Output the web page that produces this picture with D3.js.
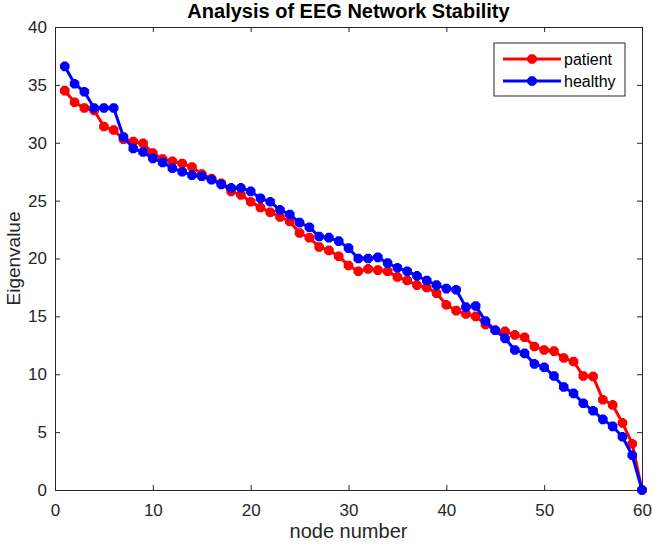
<!DOCTYPE html>
<html>
<head>
<meta charset="utf-8">
<script src="https://cdn.jsdelivr.net/npm/d3@7"></script>
<style>
  body { margin: 0; background: #fff; }
  svg { display: block; font-family: "Liberation Sans", Arial, sans-serif; }
</style>
</head>
<body>
<svg id="chart" width="653" height="548"></svg>
<script>
const nodes = d3.range(1, 61);
const patient = [34.5, 33.5, 33.0, 32.8, 31.4, 31.1, 30.3, 30.1, 29.95, 29.1,
  28.6, 28.4, 28.2, 27.9, 27.3, 26.9, 26.5, 25.8, 25.5, 24.9,
  24.4, 24.0, 23.6, 23.2, 22.2, 21.8, 21.0, 20.7, 20.2, 19.4,
  18.9, 19.1, 19.0, 18.9, 18.4, 18.1, 17.7, 17.5, 17.0, 16.0,
  15.5, 15.2, 15.0, 14.3, 13.8, 13.7, 13.4, 13.2, 12.4, 12.1,
  12.0, 11.4, 11.1, 9.85, 9.8, 7.8, 7.35, 5.8, 4.0, 0];
const healthy = [36.6, 35.1, 34.4, 33.0, 33.0, 33.0, 30.5, 29.5, 29.2, 28.65,
  28.3, 27.8, 27.5, 27.2, 27.1, 26.8, 26.4, 26.1, 26.1, 25.8,
  25.2, 24.9, 24.2, 23.8, 23.1, 22.7, 21.9, 21.8, 21.5, 20.9,
  20.0, 20.0, 20.1, 19.6, 19.2, 18.9, 18.5, 18.1, 17.7, 17.4,
  17.3, 15.8, 15.9, 14.6, 13.8, 13.1, 12.1, 11.8, 10.9, 10.6,
  9.85, 8.9, 8.35, 7.5, 6.85, 6.1, 5.5, 4.6, 3.0, 0];
const xTicks = [0, 10, 20, 30, 40, 50, 60];
const yTicks = [0, 5, 10, 15, 20, 25, 30, 35, 40];
const seriesNames = ["patient", "healthy"];
const seriesColors = ["#ff0000", "#0000ff"];

const svg = d3.select("#chart");
const L = 55, R = 642, T = 27, B = 490;
const x = d3.scaleLinear().domain([0, 60]).range([L, R]);
const y = d3.scaleLinear().domain([0, 40]).range([B, T]);
const axisColor = "#262626";

// axes (box with inward ticks)
const gx = svg.append("g").attr("transform", `translate(0,${B})`)
  .call(d3.axisBottom(x).tickValues(xTicks).tickSizeInner(-5).tickSizeOuter(0).tickPadding(14));
const gxt = svg.append("g").attr("transform", `translate(0,${T})`)
  .call(d3.axisTop(x).tickValues(xTicks).tickSizeInner(-5).tickSizeOuter(0).tickFormat(""));
const gy = svg.append("g").attr("transform", `translate(${L},0)`)
  .call(d3.axisLeft(y).tickValues(yTicks).tickSizeInner(-5).tickSizeOuter(0).tickPadding(8));
const gyr = svg.append("g").attr("transform", `translate(${R},0)`)
  .call(d3.axisRight(y).tickValues(yTicks).tickSizeInner(-5).tickSizeOuter(0).tickFormat(""));
[gx, gxt, gy, gyr].forEach(g => {
  g.select(".domain").attr("stroke", axisColor).attr("stroke-width", 1);
  g.selectAll(".tick line").attr("stroke", axisColor);
  g.selectAll(".tick text").attr("fill", axisColor).style("font-size", "17px")
    .style("font-family", "'Liberation Sans', Arial, sans-serif");
});

// star marker (MATLAB '*')
const starR = 4.8;
function starPath(cx, cy) {
  const r = starR, d = r * 0.7071;
  return `M${cx - r},${cy}L${cx + r},${cy}M${cx},${cy - r}L${cx},${cy + r}` +
    `M${cx - d},${cy - d}L${cx + d},${cy + d}M${cx - d},${cy + d}L${cx + d},${cy - d}`;
}

const data = [patient, healthy];
const line = d3.line().x((d, i) => x(nodes[i])).y(d => y(d));
data.forEach((vals, k) => {
  const g = svg.append("g");
  g.append("path").datum(vals).attr("d", line)
    .attr("fill", "none").attr("stroke", seriesColors[k]).attr("stroke-width", 3);
  g.selectAll("path.m").data(vals).join("path").attr("class", "m")
    .attr("d", (d, i) => starPath(x(nodes[i]), y(d)))
    .attr("stroke", seriesColors[k]).attr("stroke-width", 4).attr("fill", "none");
  g.selectAll("circle.m").data(vals).join("circle").attr("class", "m")
    .attr("cx", (d, i) => x(nodes[i])).attr("cy", d => y(d)).attr("r", 3.8)
    .attr("fill", seriesColors[k]);
});

// title and labels
svg.append("text").attr("x", (L + R) / 2).attr("y", 18).attr("text-anchor", "middle")
  .style("font-weight", "bold").style("font-size", "20px").attr("fill", "#000")
  .text("Analysis of EEG Network Stability");
svg.append("text").attr("x", (L + R) / 2).attr("y", 538).attr("text-anchor", "middle")
  .style("font-size", "20px").attr("fill", axisColor).text("node number");
svg.append("text").attr("transform", `translate(20,${(T + B) / 2}) rotate(-90)`)
  .attr("text-anchor", "middle")
  .style("font-size", "19px").attr("fill", axisColor).text("Eigenvalue");

// legend
const lg = svg.append("g");
lg.append("rect").attr("x", 494).attr("y", 43).attr("width", 131).attr("height", 53)
  .attr("fill", "#fff").attr("stroke", axisColor).attr("stroke-width", 1);
seriesNames.forEach((name, k) => {
  const ly = 59 + k * 22;
  lg.append("line").attr("x1", 503).attr("x2", 561).attr("y1", ly).attr("y2", ly)
    .attr("stroke", seriesColors[k]).attr("stroke-width", 3);
  lg.append("path").attr("d", starPath(532, ly)).attr("stroke", seriesColors[k])
    .attr("stroke-width", 4).attr("fill", "none");
  lg.append("circle").attr("cx", 532).attr("cy", ly).attr("r", 3.8).attr("fill", seriesColors[k]);
  lg.append("text").attr("x", 564).attr("y", ly).attr("dy", "0.35em")
    .style("font-size", "16px").attr("fill", "#000").text(name);
});
</script>
</body>
</html>
